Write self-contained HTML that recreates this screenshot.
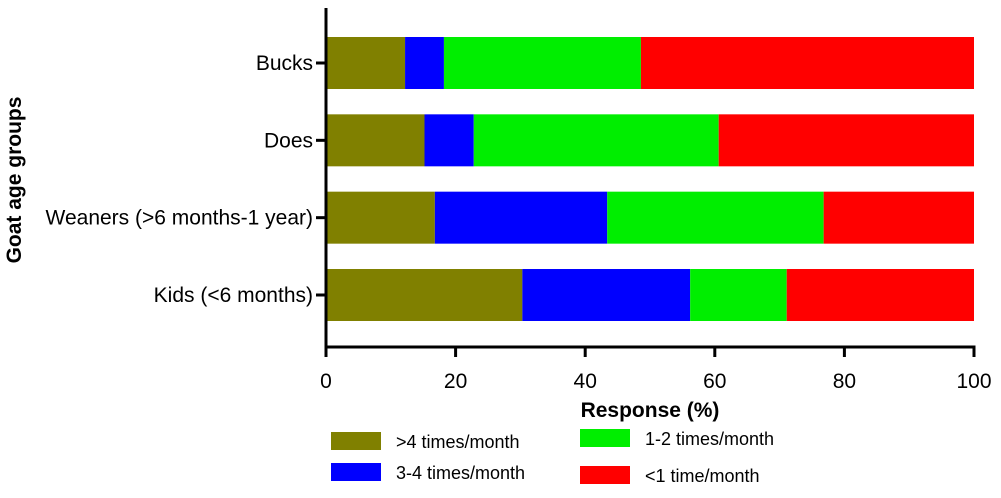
<!DOCTYPE html>
<html><head><meta charset="utf-8"><style>
html,body{margin:0;padding:0;background:#fff;}
svg text{font-family:"Liberation Sans",Arial,sans-serif;fill:#000;}
</style></head><body>
<svg id="chart" width="1001" height="493" viewBox="0 0 1001 493" xmlns="http://www.w3.org/2000/svg">
<g id="bars"></g>
<g id="axes"></g>
<text x="650" y="417" font-size="21" font-weight="bold" text-anchor="middle">Response (%)</text>
<text transform="translate(21,180) rotate(-90)" font-size="21" font-weight="bold" text-anchor="middle">Goat age groups</text>
<g id="legend"></g>
</svg>
<script>
const categories = ["Bucks","Does","Weaners (>6 months-1 year)","Kids (<6 months)"];
const seriesNames = [">4 times/month","3-4 times/month","1-2 times/month","<1 time/month"];
const s1 = [12.2,15.2,16.8,30.3];
const s2 = [6.0,7.6,26.6,25.9];
const s3 = [30.4,37.8,33.4,14.9];
const s4 = [51.4,39.4,23.2,28.9];
const xTicks = [0,20,40,60,80,100];
const colors = ["#808000","#0000ff","#00ee00","#ff0000"];
const NS="http://www.w3.org/2000/svg";
const x0=326, x1=974, yTop=8, yAxis=347;
const xs=v=>x0+(x1-x0)*v/100;
const bandTop=[37,114,192,269], barH=52;
const yc=i=>bandTop[0]+i*((bandTop[3]-bandTop[0])/3);
function mk(t,a,p){const e=document.createElementNS(NS,t);for(const k in a)e.setAttribute(k,a[k]);p.appendChild(e);return e;}
const bars=document.getElementById('bars'), axes=document.getElementById('axes'), leg=document.getElementById('legend');
const series=[s1,s2,s3,s4];
categories.forEach((c,i)=>{
  let acc=0;
  series.forEach((s,j)=>{
    const r=mk('rect',{x:xs(acc),y:yc(i),width:xs(acc+s[i])-xs(acc),height:barH,fill:colors[j]},bars);
    
    
    acc+=s[i];
  });
  const tk=mk('line',{x1:x0-10,x2:x0,y1:yc(i)+barH/2,y2:yc(i)+barH/2,stroke:'#000','stroke-width':3},axes);
  
  
  const tl=mk('text',{x:x0-13,y:yc(i)+barH/2+7,'font-size':21,'text-anchor':'end'},axes);
  tl.textContent=c;
  
  
});
const ya=mk('line',{x1:x0,x2:x0,y1:yTop,y2:yAxis+1.5,stroke:'#000','stroke-width':3},axes);


const xa=mk('line',{x1:x0-1.5,x2:xs(100)+1.5,y1:yAxis,y2:yAxis,stroke:'#000','stroke-width':3},axes);


xTicks.forEach(v=>{
  const t=mk('line',{x1:xs(v),x2:xs(v),y1:yAxis,y2:yAxis+10,stroke:'#000','stroke-width':3},axes);
  
  
  const l=mk('text',{x:xs(v),y:yAxis+41,'font-size':21,'text-anchor':'middle'},axes);
  l.textContent=v;
  
  
});
const legPos=[[331,432],[331,463],[580,429],[580,466]];
seriesNames.forEach((n,j)=>{
  const g=mk('g',{},leg);
  
  
  mk('rect',{x:legPos[j][0],y:legPos[j][1],width:50,height:18,fill:colors[j]},g);
  const t=mk('text',{x:legPos[j][0]+65,y:legPos[j][1]+16,'font-size':18},g);
  t.textContent=n;
});
</script>
</body></html>
